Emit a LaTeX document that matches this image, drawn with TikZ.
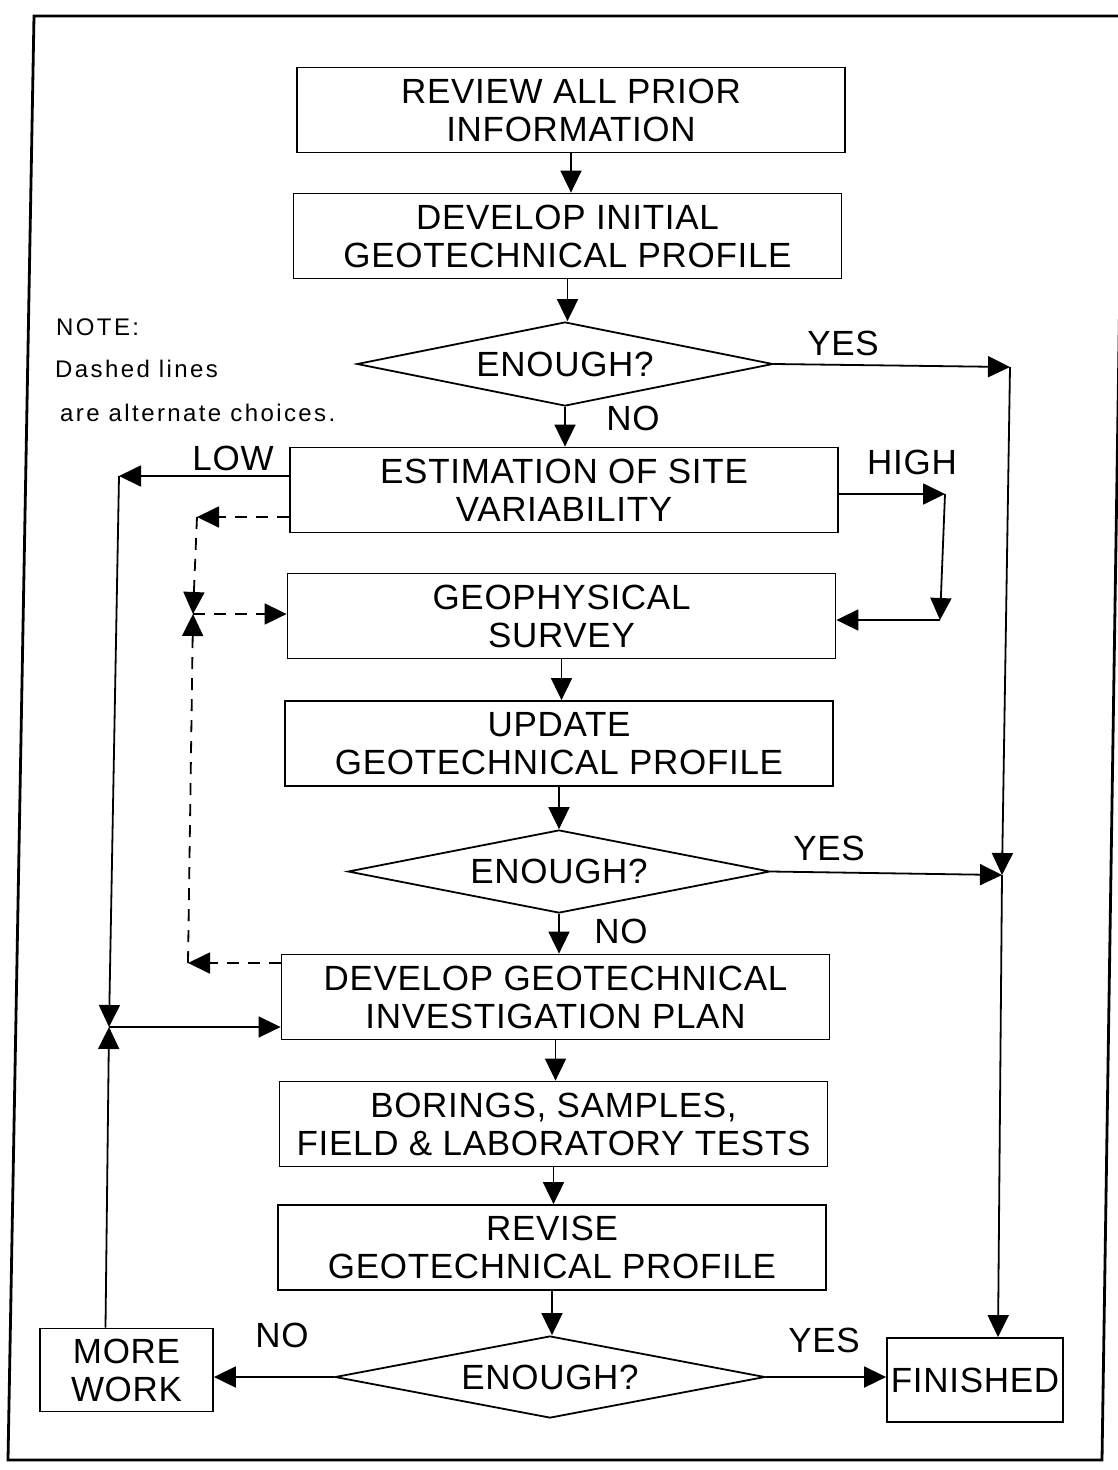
\documentclass[tikz,border=0pt]{standalone}
\usepackage{fontspec}
\setmainfont[LetterSpace=2]{Liberation Sans}
\newfontfamily\notefont[LetterSpace=10]{Liberation Sans}
\usetikzlibrary{arrows.meta,shapes.geometric}
\begin{document}
\begin{tikzpicture}[x=1pt,y=-1pt,
  txt/.style={font=\fontsize{35}{38}\selectfont},
  box/.style={txt,draw,line width=1.8pt,minimum width=548pt,minimum height=85pt,align=center,inner sep=0pt},
  smallbox/.style={txt,draw,line width=1.8pt,align=center,inner sep=0pt},
  dia/.style={txt,draw,line width=1.8pt,diamond,aspect=5,inner sep=0pt},
  lbl/.style={txt,inner sep=0pt},
  note/.style={font=\notefont\fontsize{24}{27}\selectfont,anchor=west,inner sep=0pt},
  conn/.style={line width=1.8pt,-{Triangle[length=22pt,width=21pt]}},
  dconn/.style={conn,dash pattern=on 12pt off 9pt}]
\useasboundingbox (0,0) rectangle (1117,1470);
\draw[line width=2.8pt] (34,16) -- (1124,16) -- (1102,1460) -- (8,1460) -- cycle;

% nodes
\node[box] (b1) at (571,110) {REVIEW ALL PRIOR\\INFORMATION};
\node[box] (b2) at (567.5,236) {DEVELOP INITIAL\\GEOTECHNICAL PROFILE};
\node[dia,minimum width=416pt,minimum height=84pt] (d1) at (565,364) {ENOUGH?};
\node[box] (b3) at (564,490) {ESTIMATION OF SITE\\VARIABILITY};
\node[box] (b4) at (561.5,616) {GEOPHYSICAL\\SURVEY};
\node[box] (b5) at (559,743.5) {UPDATE\\GEOTECHNICAL PROFILE};
\node[dia,minimum width=422pt,minimum height=83pt] (d2) at (559,871.5) {ENOUGH?};
\node[box] (b6) at (555.5,997) {DEVELOP GEOTECHNICAL\\INVESTIGATION PLAN};
\node[box] (b7) at (553.5,1124) {BORINGS, SAMPLES,\\FIELD \& LABORATORY TESTS};
\node[box] (b8) at (552,1247.5) {REVISE\\GEOTECHNICAL PROFILE};
\node[dia,minimum width=430pt,minimum height=82pt] (d3) at (550,1377) {ENOUGH?};
\node[smallbox,minimum width=173pt,minimum height=83pt] (mw) at (126.5,1370) {MORE\\WORK};
\node[smallbox,minimum width=176pt,minimum height=84pt] (fin) at (975,1380) {FINISHED};

% labels
\node[lbl] (l1) at (843,343) {YES};
\node[lbl] (l2) at (633,418) {NO};
\node[lbl] (l3) at (233,458) {LOW};
\node[lbl] (l4) at (912,462) {HIGH};
\node[lbl] (l5) at (829,848) {YES};
\node[lbl] (l6) at (621,931) {NO};
\node[lbl] (l7) at (282,1335) {NO};
\node[lbl] (l8) at (824,1340) {YES};

\node[note] (n1) at (56,327) {NOTE:};
\node[note] (n2) at (55,369) {Dashed lines};
\node[note] (n3) at (60,413) {are alternate choices.};

% coordinates
\coordinate (lowc) at (119,476);
\coordinate (jL) at (109,1027);
\coordinate (dA) at (197,517);
\coordinate (dB) at (193,614);
\coordinate (dC) at (188,963);
\coordinate (hA) at (945,494);
\coordinate (hB) at (940,620);
\coordinate (yA) at (1010,367);
\coordinate (yB) at (1002,875);

% main flow
\draw[conn] (b1.south) -- (b1.south |- b2.north);
\draw[conn] (b2.south) -- (b2.south |- d1.north);
\draw[conn] (d1.south) -- (d1.south |- b3.north);
\draw[conn] (b4.south) -- (b4.south |- b5.north);
\draw[conn] (b5.south) -- (b5.south |- d2.north);
\draw[conn] (d2.south) -- (d2.south |- b6.north);
\draw[conn] (b6.south) -- (b6.south |- b7.north);
\draw[conn] (b7.south) -- (b7.south |- b8.north);
\draw[conn] (b8.south) -- (b8.south |- d3.north);

% LOW path
\draw[conn] (lowc -| b3.west) -- (lowc);
\draw[conn] (lowc) -- (jL);
\draw[conn] ([xshift=-21pt]mw.north) -- (jL);
\draw[conn] (jL) -- (jL -| b6.west);

% dashed alternates
\draw[dconn] (dA -| b3.west) -- (dA);
\draw[dconn] (dA) -- (dB);
\draw[dconn] (dB) -- (dB -| b4.west);
\draw[dconn] (dC -| b6.west) -- (dC);
\draw[dconn] (dC) -- (dB);

% HIGH path
\draw[conn] (hA -| b3.east) -- (hA);
\draw[conn] (hA) -- (hB);
\draw[conn] (hB) -- (hB -| b4.east);

% YES paths
\draw[conn] (d1.east) -- (yA);
\draw[conn] (yA) -- (yB);
\draw[conn] (d2.east) -- (yB);
\draw[conn] (yB) -- ([xshift=23pt]fin.north);

% bottom decision
\draw[conn] (d3.west) -- (d3.west -| mw.east);
\draw[conn] (d3.east) -- (d3.east -| fin.west);
\end{tikzpicture}
\end{document}
